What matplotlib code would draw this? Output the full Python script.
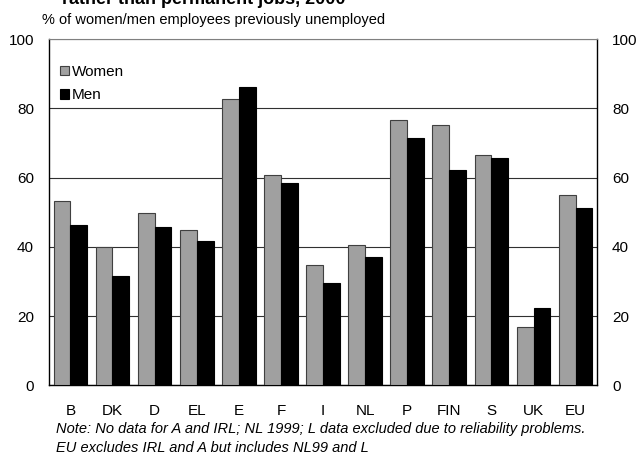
import numpy as np
import matplotlib.pyplot as plt

plt.rcParams['font.family'] = ['Liberation Sans', 'DejaVu Sans']

countries = ['B', 'DK', 'D', 'EL', 'E', 'F', 'I', 'NL', 'P', 'FIN', 'S', 'UK', 'EU']
women = [53.2, 40.0, 49.8, 45.0, 82.7, 60.8, 34.8, 40.4, 76.7, 75.1, 66.6, 16.9, 55.0]
men = [46.2, 31.6, 45.7, 41.6, 86.1, 58.4, 29.6, 37.2, 71.4, 62.3, 65.8, 22.4, 51.2]
yticks = [0, 20, 40, 60, 80, 100]

fig = plt.figure(figsize=(6.37, 4.54), dpi=100)
ax = fig.add_axes([0.0774, 0.151, 0.8593, 0.763])

x = np.arange(len(countries))
w = 0.4
ax.bar(x - w / 2, women, w, color='#a0a0a0', edgecolor='#404040', linewidth=0.8, label='Women', zorder=3)
ax.bar(x + w / 2, men, w, color='black', edgecolor='black', linewidth=0.8, label='Men', zorder=3)

ax.set_xlim(-0.5, len(countries) - 0.5)
ax.set_ylim(0, 100)
ax.set_yticks(yticks)
ax.set_xticks(x)
ax.set_xticklabels(countries)
ax.yaxis.grid(True, color='#303030', linewidth=0.8, zorder=0)
ax.set_axisbelow(True)

# same scale on both sides, no tick marks
ax.tick_params(axis='y', length=0, labelsize=11, labelright=True, pad=11)
ax.tick_params(axis='x', length=0, labelsize=11, pad=13)

ax.spines['top'].set_color('#808080')
ax.spines['top'].set_linewidth(0.8)
for s in ['left', 'right', 'bottom']:
    ax.spines[s].set_color('black')
    ax.spines[s].set_linewidth(1.0)

ax.legend(loc='upper left', bbox_to_anchor=(0.0, 0.956), frameon=False,
          fontsize=11, handlelength=0.6, handleheight=0.6,
          handletextpad=0.2, labelspacing=0.6, borderaxespad=0.3)

fig.text(0.32, 1 - 4 / 454, 'rather than permanent jobs, 2000', fontsize=13,
         fontweight='bold', ha='center', va='baseline')
fig.text(0.066, 1 - 20 / 454, '% of women/men employees previously unemployed',
         fontsize=10.5, ha='left', va='center')
fig.text(0.088, 1 - 429 / 454,
         'Note: No data for A and IRL; NL 1999; L data excluded due to reliability problems.',
         fontsize=10.5, style='italic', ha='left', va='center')
fig.text(0.088, 1 - 448 / 454,
         'EU excludes IRL and A but includes NL99 and L',
         fontsize=10.5, style='italic', ha='left', va='center')

fig.savefig('out.png', dpi=100)
